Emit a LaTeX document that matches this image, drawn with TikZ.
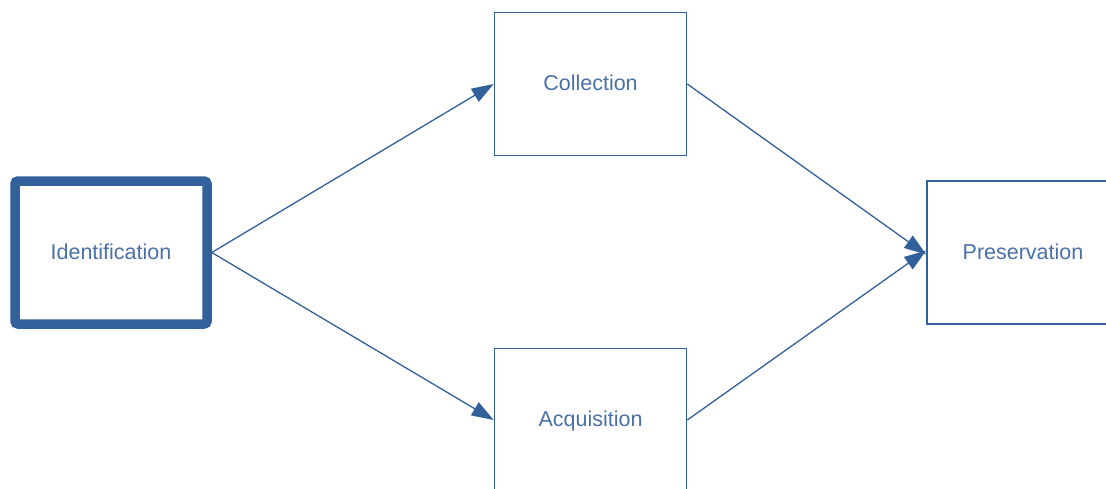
\documentclass[tikz,border=0pt]{standalone}
\usepackage{fontspec}
\setmainfont{Liberation Sans}
\usetikzlibrary{arrows.meta}
\definecolor{boxblue}{HTML}{32609A}
\definecolor{txtblue}{HTML}{4A70A8}
\tikzset{
  stage/.style={draw=boxblue, line width=1.6pt, fill=white, minimum width=192pt, minimum height=143pt,
    inner sep=0pt, text=txtblue, font=\fontsize{21.5}{24}\selectfont, text depth=2pt},
  keystage/.style={stage, line width=9.5pt, rounded corners=3pt},
  flow/.style={draw=boxblue, line width=1.3pt, -{Triangle[length=22pt,width=15pt]}}
}
\begin{document}
\begin{tikzpicture}[x=1pt,y=-1pt]
\useasboundingbox (0,0) rectangle (1106,488);
\clip (0,0) rectangle (1106,488);
\node[keystage] (ident) at (111,252.5) {Identification};
\node[stage] (coll) at (590.5,84) {Collection};
\node[stage] (acq) at (590.5,420) {Acquisition};
\node[stage] (pres) at (1023,252.5) {Preservation};
\draw[flow] (ident.east) -- (coll.west);
\draw[flow] (ident.east) -- (acq.west);
\draw[flow] (coll.east) -- ([yshift=-2pt]pres.west);
\draw[flow] (acq.east) -- ([yshift=2pt]pres.west);
\end{tikzpicture}
\end{document}
